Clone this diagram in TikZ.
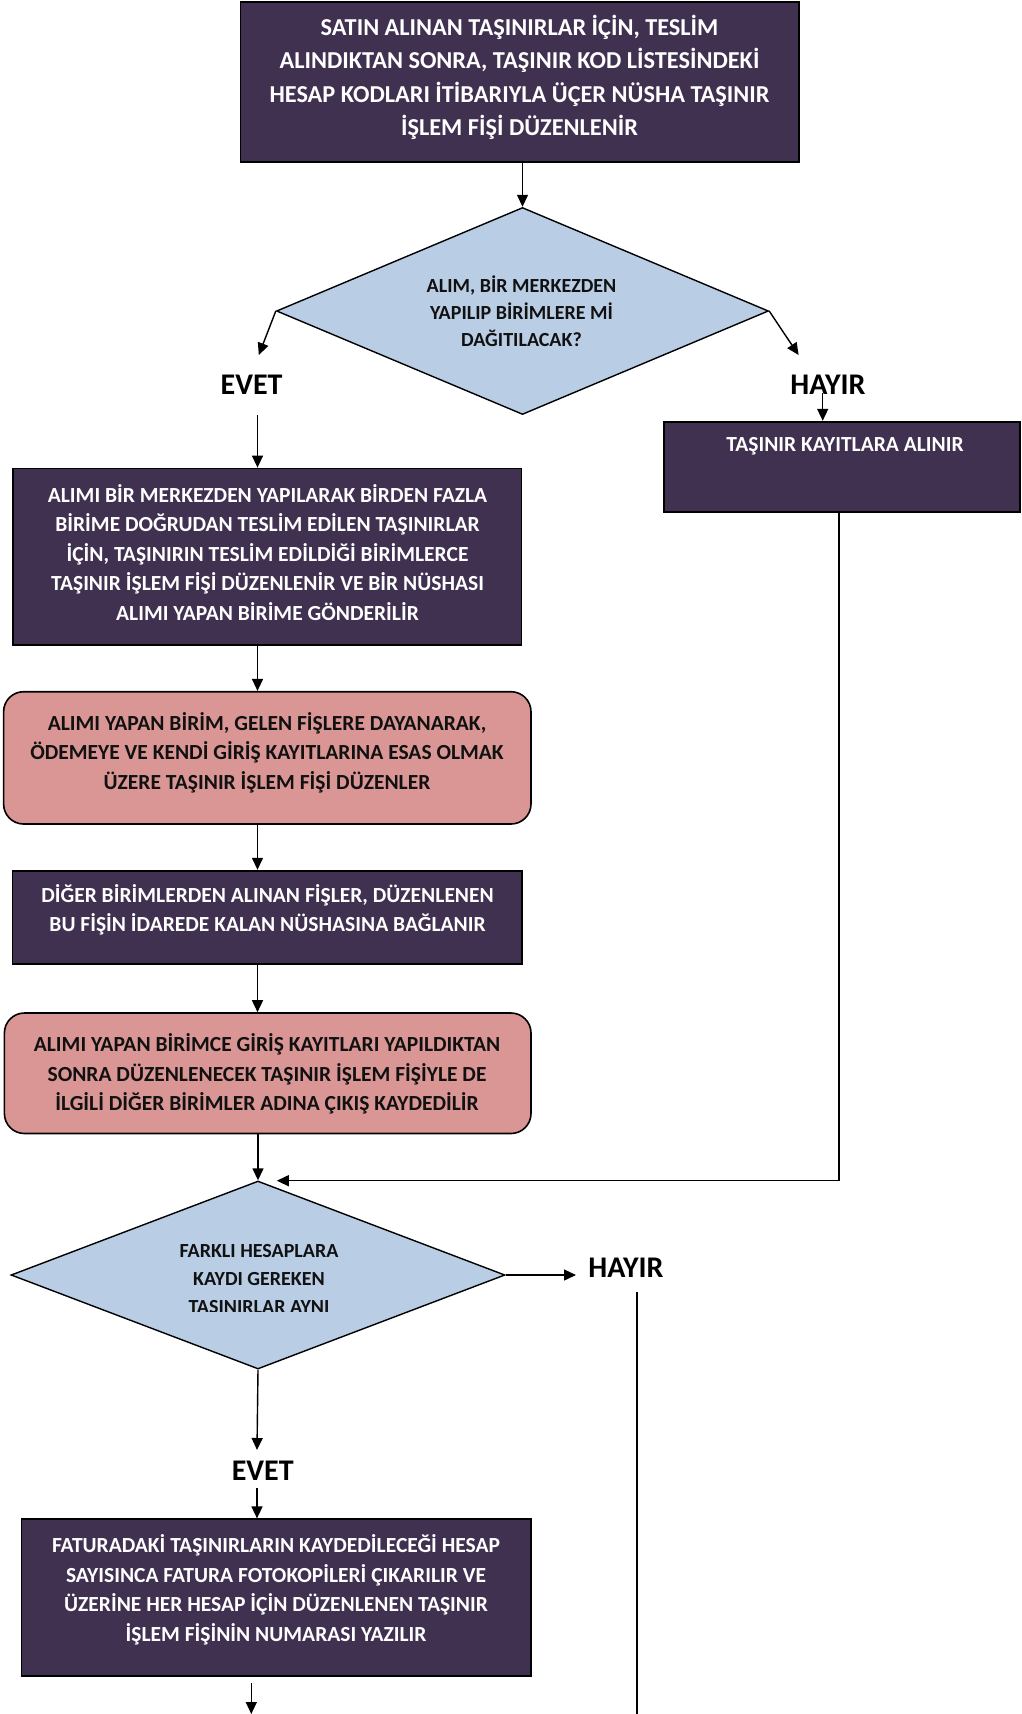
\documentclass[tikz,border=0pt]{standalone}
\usepackage{fontspec}
\setmainfont{Carlito}
\usetikzlibrary{arrows.meta,shapes.geometric}
\definecolor{dpurple}{HTML}{403151}
\definecolor{lblue}{HTML}{B9CDE5}
\definecolor{lpink}{HTML}{D99694}
\definecolor{dtext}{HTML}{111111}
\begin{document}
\begin{tikzpicture}[x=1pt,y=-1pt,
  darkbox/.style={draw=black,line width=1.8pt,fill=dpurple,rectangle,inner sep=0pt},
  pinkbox/.style={draw=black,line width=1.6pt,fill=lpink,rectangle,rounded corners=20pt,inner sep=0pt},
  decision/.style={draw=black,line width=1.4pt,fill=lblue,diamond,inner sep=0pt},
  bigtxt/.style={align=center,inner sep=0pt,text=white,font=\fontsize{24.3}{33.5}\selectfont\bfseries},
  boxtxt/.style={align=center,inner sep=0pt,font=\fontsize{21.5}{29.5}\selectfont\bfseries},
  whitetxt/.style={boxtxt,text=white},
  blacktxt/.style={boxtxt,text=dtext},
  dtxt/.style={align=center,inner sep=0pt,text=dtext,font=\fontsize{20}{27}\selectfont\bfseries},
  lbl/.style={inner sep=0pt,text=black,font=\fontsize{30}{32}\selectfont\bfseries},
  conn/.style={draw=black,line width=1.4pt},
  arr/.style={conn,-{Triangle[length=12pt,width=11pt]}}
]
\useasboundingbox (0,0) rectangle (1022,1714);
\fill[white] (0,0) rectangle (1022,1714);

% boxes
\node[darkbox,minimum width=558.6pt,minimum height=160pt] (b1) at (519.7,81.7) {};
\node[bigtxt] (t1) at (519.5,77.4) {SATIN ALINAN TAŞINIRLAR İÇİN, TESLİM\\ALINDIKTAN SONRA, TAŞINIR KOD LİSTESİNDEKİ\\HESAP KODLARI İTİBARIYLA ÜÇER NÜSHA TAŞINIR\\İŞLEM FİŞİ DÜZENLENİR};

\node[decision,minimum width=492pt,minimum height=207pt] (d1) at (522.5,311) {};
\node[dtxt] (td1) at (521.5,311) {ALIM, BİR MERKEZDEN\\YAPILIP BİRİMLERE Mİ\\DAĞITILACAK?};

\node[lbl] (evet1) at (251.6,385) {EVET};
\node[lbl] (hayir1) at (828,385) {HAYIR};

\node[darkbox,minimum width=356.4pt,minimum height=90.3pt] (b3) at (841.8,466.85) {};
\node[whitetxt] (t3) at (845,446) {TAŞINIR KAYITLARA ALINIR};

\node[darkbox,minimum width=508.5pt,minimum height=176.5pt] (b2) at (267.25,556.75) {};
\node[whitetxt] (t2) at (267.5,552.4) {ALIMI BİR MERKEZDEN YAPILARAK BİRDEN FAZLA\\BİRİME DOĞRUDAN TESLİM EDİLEN TAŞINIRLAR\\İÇİN, TAŞINIRIN TESLİM EDİLDİĞİ BİRİMLERCE\\TAŞINIR İŞLEM FİŞİ DÜZENLENİR VE BİR NÜSHASI\\ALIMI YAPAN BİRİME GÖNDERİLİR};

\node[pinkbox,minimum width=527.4pt,minimum height=132.3pt] (b4) at (267.3,757.85) {};
\node[blacktxt] (t4) at (267,752.5) {ALIMI YAPAN BİRİM, GELEN FİŞLERE DAYANARAK,\\ÖDEMEYE VE KENDİ GİRİŞ KAYITLARINA ESAS OLMAK\\ÜZERE TAŞINIR İŞLEM FİŞİ DÜZENLER};

\node[darkbox,minimum width=509.5pt,minimum height=93.3pt] (b5) at (267.25,917.35) {};
\node[whitetxt] (t5) at (267.5,910) {DİĞER BİRİMLERDEN ALINAN FİŞLER, DÜZENLENEN\\BU FİŞİN İDAREDE KALAN NÜSHASINA BAĞLANIR};

\node[pinkbox,minimum width=526.6pt,minimum height=120.5pt] (b6) at (267.7,1073.25) {};
\node[blacktxt] (t6) at (267,1073.8) {ALIMI YAPAN BİRİMCE GİRİŞ KAYITLARI YAPILDIKTAN\\SONRA DÜZENLENECEK TAŞINIR İŞLEM FİŞİYLE DE\\İLGİLİ DİĞER BİRİMLER ADINA ÇIKIŞ KAYDEDİLİR};

\node[decision,minimum width=494pt,minimum height=188pt] (d2) at (258,1275) {};
\begin{scope}
\clip (0,1230) rectangle (510,1311.5);
\node[dtxt,font=\fontsize{20}{28}\selectfont\bfseries] (td2) at (259,1280.8) {FARKLI HESAPLARA\\KAYDI GEREKEN\\TAŞINIRLAR AYNI};
\end{scope}

\node[lbl] (hayir2) at (626,1268) {HAYIR};
\node[lbl] (evet2) at (262.7,1470.5) {EVET};

\node[darkbox,minimum width=509.6pt,minimum height=156.7pt] (b7) at (276.2,1597.65) {};
\node[whitetxt] (t7) at (276,1589.9) {FATURADAKİ TAŞINIRLARIN KAYDEDİLECEĞİ HESAP\\SAYISINCA FATURA FOTOKOPİLERİ ÇIKARILIR VE\\ÜZERİNE HER HESAP İÇİN DÜZENLENEN TAŞINIR\\İŞLEM FİŞİNİN NUMARASI YAZILIR};

% coordinates
\coordinate (eL) at (258.8,355);
\coordinate (eR) at (798.6,355);
\coordinate (a1) at (257.5,415);
\coordinate (h1) at (822.7,393);
\coordinate (fbx) at (839,512);
\coordinate (fb) at (276.8,1180.7);
\coordinate (h2r) at (576,1275);
\coordinate (h2s) at (637,1291.7);
\coordinate (h2e) at (637,1714);
\coordinate (e2) at (257,1450);
\coordinate (a2) at (257,1488.3);
\coordinate (endS) at (251.3,1683);
\coordinate (endE) at (251.3,1714);

% connectors
\draw[arr] (b1.south -| d1.north) -- (d1.north);
\draw[arr] (d1.west) -- (eL);
\draw[arr] (d1.east) -- (eR);
\draw[arr] (a1) -- (a1 |- b2.north);
\draw[arr] (h1) -- (h1 |- b3.north);
\draw[arr] (fbx) |- (fb);
\draw[arr] (b2.south -| a1) -- (b4.north -| a1);
\draw[arr] (b4.south -| a1) -- (b5.north -| a1);
\draw[arr] (b5.south -| a1) -- (b6.north -| a1);
\draw[arr] (b6.south -| d2.north) -- (d2.north);
\draw[arr] (d2.east) -- (h2r);
\draw[conn] (h2s) -- (h2e);
\draw[arr] (d2.south) -- (e2);
\draw[arr] (a2) -- (a2 |- b7.north);
\draw[arr] (endS) -- (endE);
\end{tikzpicture}
\end{document}
